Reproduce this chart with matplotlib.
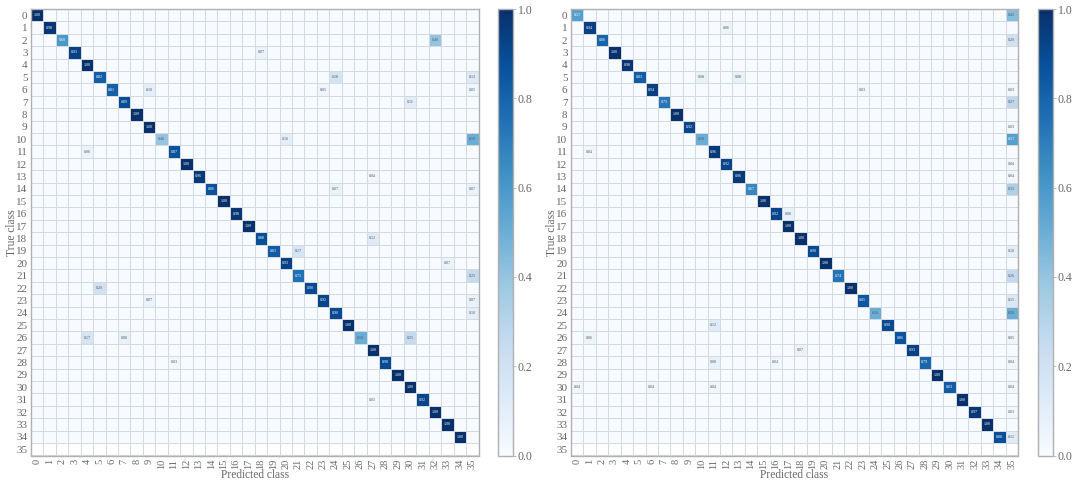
#!/usr/bin/env python3
"""Two normalized confusion matrices side by side (36 classes)."""

import numpy as np
import matplotlib
matplotlib.use('Agg')
import matplotlib.pyplot as plt

plt.rcParams['font.family'] = ['Liberation Serif', 'DejaVu Serif']

N_CLASSES = 36
class_labels = [str(i) for i in range(N_CLASSES)]

# Left matrix: diagonal for classes 0-34, class 35 has no samples
left_diag = [1.00, 0.98, 0.60, 0.93, 1.00, 0.82, 0.81, 0.89, 1.00, 1.00, 0.40, 0.87,
             1.00, 0.96, 0.86, 1.00, 0.98, 1.00, 0.88, 0.83, 0.93, 0.75, 0.90, 0.92,
             0.90, 1.00, 0.50, 1.00, 0.90, 1.00, 1.00, 0.92, 1.00, 1.00, 1.00]
left_off_rows = [2, 3, 5, 5, 6, 6, 6, 7, 10, 10, 11, 13, 14, 14,
                 18, 19, 20, 21, 22, 23, 23, 24, 26, 26, 26, 28, 31]
left_off_cols = [32, 18, 24, 35, 9, 23, 35, 30, 20, 35, 4, 27, 24, 35,
                 27, 21, 33, 35, 5, 9, 35, 35, 4, 7, 30, 11, 27]
left_off_vals = [0.40, 0.07, 0.18, 0.13, 0.10, 0.05, 0.05, 0.11, 0.10, 0.50, 0.06, 0.04, 0.07, 0.07,
                 0.12, 0.17, 0.07, 0.25, 0.20, 0.07, 0.07, 0.10, 0.17, 0.08, 0.25, 0.03, 0.03]

# Right matrix
right_diag = [0.57, 0.94, 0.80, 1.00, 0.98, 0.83, 0.94, 0.73, 1.00, 0.92, 0.50, 0.96,
              0.92, 0.96, 0.67, 1.00, 0.92, 1.00, 1.00, 0.90, 1.00, 0.74, 1.00, 0.85,
              0.50, 0.90, 0.86, 0.93, 0.79, 1.00, 0.83, 1.00, 0.97, 1.00, 0.88]
right_off_rows = [0, 1, 2, 5, 5, 6, 6, 7, 9, 10, 11, 12, 13, 14, 16, 19, 21, 23,
                  24, 25, 26, 26, 27, 28, 28, 28, 30, 30, 30, 30, 32, 34]
right_off_cols = [35, 12, 35, 10, 13, 23, 35, 35, 35, 35, 1, 35, 35, 35, 17, 35, 35, 35,
                  35, 11, 1, 35, 18, 11, 16, 35, 0, 6, 11, 35, 35, 35]
right_off_vals = [0.43, 0.06, 0.20, 0.08, 0.08, 0.03, 0.03, 0.27, 0.03, 0.57, 0.04, 0.04, 0.04, 0.33,
                  0.08, 0.10, 0.26, 0.15, 0.50, 0.12, 0.06, 0.05, 0.07, 0.08, 0.04, 0.04,
                  0.04, 0.04, 0.04, 0.04, 0.03, 0.12]

FIG_W, FIG_H = 1079, 484
TOP, BOTTOM = 9, 455.5
TEXT_COLOR = '#666666'
LINE_COLOR = '#d4d8df'
FRAME_COLOR = '#b0b0b0'


def build_matrix(diag, rows, cols, vals):
    mat = np.zeros((N_CLASSES, N_CLASSES))
    mat[N_CLASSES - 1, :] = np.nan  # empty row, stays white
    for i, v in enumerate(diag):
        mat[i, i] = v
    for r, c, v in zip(rows, cols, vals):
        mat[r, c] = v
    return mat


def px_axes(fig, x0, x1):
    return fig.add_axes([x0 / FIG_W, 1 - BOTTOM / FIG_H,
                         (x1 - x0) / FIG_W, (BOTTOM - TOP) / FIG_H])


def plot_matrix(fig, mat, ax_x0, ax_x1, cb_x0, cb_x1, cmap):
    ax = px_axes(fig, ax_x0, ax_x1)
    # pcolormesh draws the cell borders itself, so they line up with the fills
    im = ax.pcolormesh(np.ma.masked_invalid(mat), cmap=cmap, vmin=0, vmax=1,
                       edgecolors=LINE_COLOR, linewidth=0.7)
    ax.set_xlim(0, N_CLASSES)
    ax.set_ylim(N_CLASSES, 0)

    ticks = np.arange(N_CLASSES) + 0.5
    ax.set_xticks(ticks)
    ax.set_yticks(ticks)
    ax.set_xticklabels(class_labels, rotation=90, fontsize=7.5, color=TEXT_COLOR)
    ax.set_yticklabels(class_labels, fontsize=8, color=TEXT_COLOR)
    ax.tick_params(axis='both', which='major', length=0, pad=2.5)
    for spine in ax.spines.values():
        spine.set_color(FRAME_COLOR)
        spine.set_linewidth(1.0)

    ax.set_xlabel('Predicted class', fontsize=8.3, color=TEXT_COLOR, labelpad=0)
    ax.set_ylabel('True class', fontsize=8.3, color=TEXT_COLOR, labelpad=-1.5)

    for r in range(N_CLASSES):
        for c in range(N_CLASSES):
            v = mat[r, c]
            if np.isnan(v) or v == 0:
                continue
            ax.text(c + 0.5, r + 0.5, f"{v:.2f}", ha='center', va='center', fontsize=3,
                    color='white' if v > 0.5 else '#555555')

    cax = px_axes(fig, cb_x0, cb_x1)
    cbar = fig.colorbar(im, cax=cax, ticks=[0, 0.2, 0.4, 0.6, 0.8, 1.0])
    cbar.ax.tick_params(length=2, width=0.6, color=FRAME_COLOR, labelsize=8.5,
                        labelcolor=TEXT_COLOR, pad=1.5)
    cbar.ax.set_yticklabels(['0.0', '0.2', '0.4', '0.6', '0.8', '1.0'])
    cbar.outline.set_edgecolor(FRAME_COLOR)
    cbar.outline.set_linewidth(1.0)


def main():
    cmap = plt.get_cmap('Blues').copy()
    cmap.set_bad('white')

    fig = plt.figure(figsize=(FIG_W / 100, FIG_H / 100), dpi=100)
    left_mat = build_matrix(left_diag, left_off_rows, left_off_cols, left_off_vals)
    right_mat = build_matrix(right_diag, right_off_rows, right_off_cols, right_off_vals)

    plot_matrix(fig, left_mat, 31, 478.5, 498, 513, cmap)
    plot_matrix(fig, right_mat, 571, 1018, 1038, 1053, cmap)

    fig.savefig('out.png', dpi=100)
    plt.close(fig)


if __name__ == "__main__":
    main()
